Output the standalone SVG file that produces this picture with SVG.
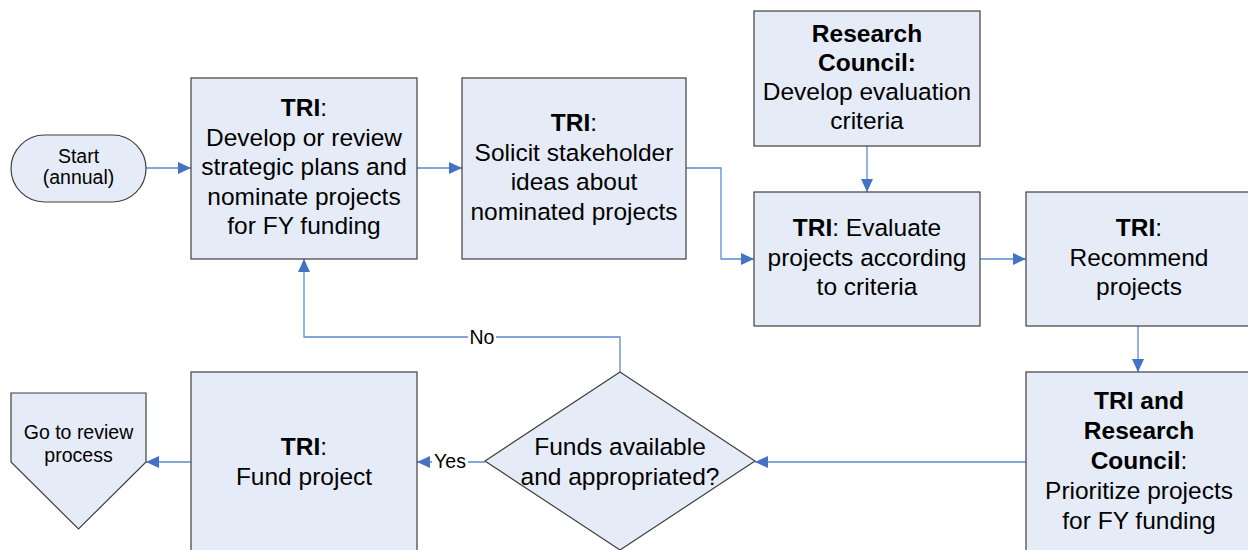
<svg xmlns="http://www.w3.org/2000/svg" width="1248" height="550" viewBox="0 0 1248 550">
<style>
.n{fill:#E6ECF7;stroke:#3F3F3F;stroke-width:1.2}
.t{font-family:"Liberation Sans",Arial,sans-serif;font-size:24.5px;fill:#000;text-anchor:middle}
.s{font-family:"Liberation Sans",Arial,sans-serif;font-size:19.5px;fill:#000;text-anchor:middle}
.b{font-weight:bold}
.c{fill:none;stroke:#5B8BD0;stroke-width:1.3}
.lbl{fill:#fff}
</style>
<defs>
<marker id="ah" markerWidth="13" markerHeight="12" refX="13" refY="6" orient="auto" markerUnits="userSpaceOnUse">
<path d="M0,0 L13,6 L0,12 Z" fill="#4472C4"/>
</marker>
</defs>
<rect width="1248" height="550" fill="#fff"/>
<g id="connectors">
<path class="c" d="M146,168 H191" marker-end="url(#ah)"/>
<path class="c" d="M417,168 H462" marker-end="url(#ah)"/>
<path class="c" d="M686,168 H721 V259 H754" marker-end="url(#ah)"/>
<path class="c" d="M867,146 V192" marker-end="url(#ah)"/>
<path class="c" d="M980,259 H1026" marker-end="url(#ah)"/>
<path class="c" d="M1138,326 V372" marker-end="url(#ah)"/>
<path class="c" d="M1026,462 H755" marker-end="url(#ah)"/>
<path class="c" d="M485,462 H417" marker-end="url(#ah)"/>
<path class="c" d="M191,462 H146" marker-end="url(#ah)"/>
<path class="c" d="M620,372 V337 H304 V259" marker-end="url(#ah)"/>
<rect class="lbl" x="432" y="451" width="36" height="22"/>
<text class="s" x="450" y="468">Yes</text>
<rect class="lbl" x="468" y="327" width="28" height="22"/>
<text class="s" x="482" y="344">No</text>
</g>
<g id="start">
<rect class="n" x="11" y="135" width="135" height="67" rx="33.5" ry="33.5"/>
<text class="s" x="78.5" y="163">Start</text>
<text class="s" x="78.5" y="184">(annual)</text>
</g>
<g id="develop">
<rect class="n" x="191" y="78" width="226" height="181"/>
<text class="t" x="304" y="116"><tspan class="b">TRI</tspan>:</text>
<text class="t" x="304" y="145.5">Develop or review</text>
<text class="t" x="304" y="175">strategic plans and</text>
<text class="t" x="304" y="204.5">nominate projects</text>
<text class="t" x="304" y="234">for FY funding</text>
</g>
<g id="solicit">
<rect class="n" x="462" y="78" width="224" height="181"/>
<text class="t" x="574" y="131"><tspan class="b">TRI</tspan>:</text>
<text class="t" x="574" y="160.5">Solicit stakeholder</text>
<text class="t" x="574" y="190">ideas about</text>
<text class="t" x="574" y="219.5">nominated projects</text>
</g>
<g id="criteria">
<rect class="n" x="754" y="11" width="226" height="135"/>
<text class="t b" x="867" y="41.5">Research</text>
<text class="t b" x="867" y="71">Council:</text>
<text class="t" x="867" y="100">Develop evaluation</text>
<text class="t" x="867" y="129">criteria</text>
</g>
<g id="evaluate">
<rect class="n" x="754" y="192" width="226" height="134"/>
<text class="t" x="867" y="236"><tspan class="b">TRI</tspan>: Evaluate</text>
<text class="t" x="867" y="265.5">projects according</text>
<text class="t" x="867" y="295">to criteria</text>
</g>
<g id="recommend">
<rect class="n" x="1026" y="192" width="226" height="134"/>
<text class="t" x="1139" y="236"><tspan class="b">TRI</tspan>:</text>
<text class="t" x="1139" y="265.5">Recommend</text>
<text class="t" x="1139" y="295">projects</text>
</g>
<g id="prioritize">
<rect class="n" x="1026" y="372" width="226" height="181"/>
<text class="t b" x="1139" y="409">TRI and</text>
<text class="t b" x="1139" y="439">Research</text>
<text class="t" x="1139" y="469"><tspan class="b">Council</tspan>:</text>
<text class="t" x="1139" y="499">Prioritize projects</text>
<text class="t" x="1139" y="529">for FY funding</text>
</g>
<g id="decision">
<path class="n" d="M620,372 L755,461 L620,550 L485,461 Z"/>
<text class="t" x="620" y="455">Funds available</text>
<text class="t" x="620" y="484.5">and appropriated?</text>
</g>
<g id="fund">
<rect class="n" x="191" y="372" width="226" height="181"/>
<text class="t" x="304" y="455"><tspan class="b">TRI</tspan>:</text>
<text class="t" x="304" y="485">Fund project</text>
</g>
<g id="review">
<path class="n" d="M11,393 H146 V462 L78.5,529 L11,462 Z"/>
<text class="s" x="78.5" y="439">Go to review</text>
<text class="s" x="78.5" y="462">process</text>
</g>
</svg>
